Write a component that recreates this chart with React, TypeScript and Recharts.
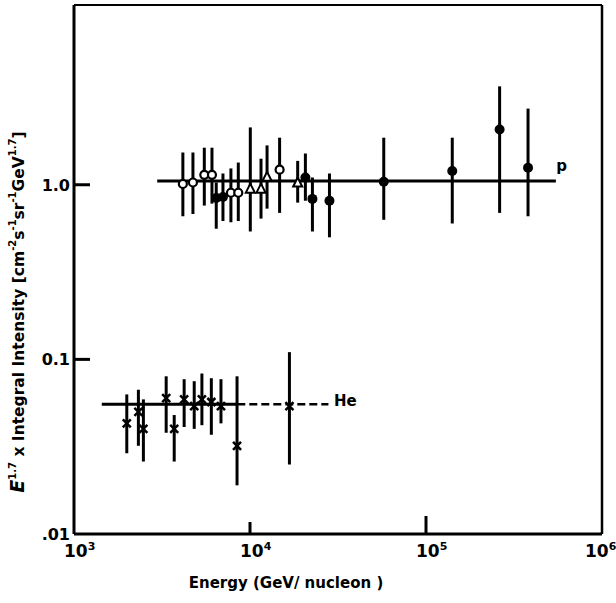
import React from "react";
import {
  ComposedChart,
  Scatter,
  XAxis,
  YAxis,
  ErrorBar,
  LabelList,
} from "recharts";

// proton points (energy GeV/nucleon, E^1.7 x intensity, error band)
const pEnergy = [4155, 4740, 5500, 6080, 6430, 7020, 7790, 8580, 10040, 11550, 12500, 14730, 18660, 20640, 22630, 28280, 57540, 141000, 262000, 380000];
const pValue = [1.01, 1.03, 1.14, 1.14, 0.84, 0.85, 0.9, 0.9, 0.95, 0.95, 1.11, 1.22, 1.03, 1.1, 0.83, 0.81, 1.04, 1.2, 2.07, 1.25];
const pHigh = [1.53, 1.53, 1.63, 1.63, 1.03, 1.16, 1.24, 1.34, 2.13, 1.41, 1.68, 1.86, 1.37, 1.51, 1.1, 1.16, 1.86, 1.86, 3.66, 2.73];
const pLow = [0.66, 0.68, 0.76, 0.78, 0.56, 0.62, 0.61, 0.62, 0.54, 0.64, 0.73, 0.69, 0.79, 0.81, 0.54, 0.5, 0.63, 0.6, 0.69, 0.66];
// o = open circle, f = filled circle, t = triangle
const pMark = ["o", "o", "o", "o", "f", "f", "o", "o", "t", "t", "t", "o", "t", "f", "f", "f", "f", "f", "f", "f"];

// helium points
const heEnergy = [1995, 2322, 2479, 3340, 3710, 4225, 4820, 5330, 6030, 6840, 8440, 16750];
const heValue = [0.043, 0.05, 0.04, 0.06, 0.04, 0.059, 0.054, 0.059, 0.057, 0.054, 0.032, 0.054];
const heHigh = [0.063, 0.067, 0.059, 0.08, 0.048, 0.077, 0.075, 0.083, 0.078, 0.077, 0.08, 0.11];
const heLow = [0.029, 0.032, 0.026, 0.038, 0.026, 0.041, 0.04, 0.042, 0.037, 0.043, 0.019, 0.025];

// fitted flat spectra
const pFitEnergy = [2970, 547000];
const pFitValue = [1.05, 1.05];
const heFitEnergy = [1438, 8470];
const heFitDashEnergy = [8470, 27900];
const heFitValue = [0.0553, 0.0553];

const xTicks = [1000, 10000, 100000, 1000000];
const yTicks = [0.01, 0.1, 1];
const yTickText: Record<string, string> = { "0.01": ".01", "0.1": "0.1", "1": "1.0" };

const FONT = "'DejaVu Sans', sans-serif";

const pData = pEnergy.map((e, i) => ({
  e,
  v: pValue[i],
  err: [pValue[i] - pLow[i], pHigh[i] - pValue[i]],
  m: pMark[i],
}));
const heData = heEnergy.map((e, i) => ({
  e,
  v: heValue[i],
  err: [heValue[i] - heLow[i], heHigh[i] - heValue[i]],
}));
const fit = (es: number[], vs: number[]) => es.map((e, i) => ({ e, v: vs[i] }));

function PMarker(props: any) {
  const { cx, cy, payload } = props;
  if (cx == null || cy == null) return <g />;
  if (payload.m === "f") return <circle cx={cx} cy={cy} r={5} fill="#000" />;
  if (payload.m === "t")
    return (
      <polygon
        points={`${cx},${cy - 5} ${cx - 4.5},${cy + 4} ${cx + 4.5},${cy + 4}`}
        fill="#fff"
        stroke="#000"
        strokeWidth={2}
      />
    );
  return <circle cx={cx} cy={cy} r={4} fill="#fff" stroke="#000" strokeWidth={2.2} />;
}

function HeMarker(props: any) {
  const { cx, cy } = props;
  if (cx == null || cy == null) return <g />;
  return (
    <g stroke="#000" strokeWidth={2.5}>
      <line x1={cx - 4} y1={cy - 4} x2={cx + 4} y2={cy + 4} />
      <line x1={cx - 4} y1={cy + 4} x2={cx + 4} y2={cy - 4} />
    </g>
  );
}

const NoDot = () => <g />;

function XTick(props: any) {
  const { x, y, payload } = props;
  const exp = Math.round(Math.log10(payload.value));
  const len = exp === 4 ? 12 : exp === 5 ? 18 : 0;
  const shift = exp === 6 ? 17 : 10;
  return (
    <g>
      {len > 0 && <line x1={x} x2={x} y1={y} y2={y - len} stroke="#000" strokeWidth={3} />}
      <text x={x - shift} y={y + 23} textAnchor="start" fontSize={17} fontWeight="bold" fontFamily={FONT} fill="#000">
        10
        <tspan dy={-7} fontSize={11}>{exp}</tspan>
      </text>
    </g>
  );
}

function YTick(props: any) {
  const { x, y, payload } = props;
  const v = payload.value;
  return (
    <g>
      {v > 0.05 && <line x1={x} x2={x + 16} y1={y} y2={y} stroke="#000" strokeWidth={3} />}
      <text x={x - 4} y={y + 6} textAnchor="end" fontSize={16} fontWeight="bold" fontFamily={FONT} fill="#000">
        {yTickText[String(v)]}
      </text>
    </g>
  );
}

function YLabel() {
  const cx = 24;
  const cy = 312;
  return (
    <text
      x={cx}
      y={cy}
      transform={`rotate(-90, ${cx}, ${cy})`}
      textAnchor="middle"
      fontSize={15.5}
      fontWeight="bold"
      fontFamily={FONT}
      fill="#000"
    >
      <tspan fontStyle="italic" fontSize={19}>E</tspan>
      <tspan dy={-8} fontSize={10}>1.7</tspan>
      <tspan dy={8}> x Integral Intensity [cm</tspan>
      <tspan dy={-8} fontSize={10}>-2</tspan>
      <tspan dy={8}>s</tspan>
      <tspan dy={-8} fontSize={10}>-1</tspan>
      <tspan dy={8}>sr</tspan>
      <tspan dy={-8} fontSize={10}>-1</tspan>
      <tspan dy={8}>GeV</tspan>
      <tspan dy={-8} fontSize={10}>1.7</tspan>
      <tspan dy={8}>]</tspan>
    </text>
  );
}

function XLabel() {
  return (
    <text x={286} y={588} textAnchor="middle" fontSize={15} fontWeight="bold" fontFamily={FONT} fill="#000">
      Energy (GeV/ nucleon )
    </text>
  );
}

const endLabel = (text: string, dx: number, dy: number, last: number) => (props: any) => {
  const { x, y, index } = props;
  if (index !== last) return null;
  return (
    <text x={x + dx} y={y + dy} fontSize={15} fontWeight="bold" fontFamily={FONT} fill="#000">
      {text}
    </text>
  );
};

export default function App() {
  const axisStroke = { stroke: "#000", strokeWidth: 3 };
  return (
    <div style={{ position: "absolute", left: 0, top: 0, background: "#fff" }}>
      <ComposedChart width={616} height={603} margin={{ top: 4, right: 0, bottom: 0, left: 0 }}>
        <XAxis
          dataKey="e"
          type="number"
          scale="log"
          domain={[1000, 1000000]}
          allowDataOverflow
          ticks={xTicks}
          interval={0}
          tickSize={0}
          tickMargin={0}
          tickLine={false}
          tick={<XTick />}
          axisLine={axisStroke}
          height={69}
          label={<XLabel />}
        />
        <XAxis
          xAxisId="top"
          orientation="top"
          type="number"
          scale="log"
          domain={[1000, 1000000]}
          allowDataOverflow
          height={1}
          tick={false}
          tickLine={false}
          axisLine={{ stroke: "#000", strokeWidth: 2 }}
        />
        <YAxis
          dataKey="v"
          type="number"
          scale="log"
          domain={[0.01, 10.7]}
          allowDataOverflow
          ticks={yTicks}
          interval={0}
          tickSize={0}
          tickMargin={0}
          tickLine={false}
          tick={<YTick />}
          axisLine={axisStroke}
          width={74}
          label={<YLabel />}
        />
        <YAxis
          yAxisId="right"
          orientation="right"
          type="number"
          domain={[0, 1]}
          width={14}
          tick={false}
          tickLine={false}
          axisLine={{ stroke: "#000", strokeWidth: 2.5 }}
        />

        <Scatter
          data={fit(pFitEnergy, pFitValue)}
          line={{ stroke: "#000", strokeWidth: 3 }}
          shape={<NoDot />}
          isAnimationActive={false}
        >
          <LabelList dataKey="v" content={endLabel("p", 5, -6, 1)} />
        </Scatter>
        <Scatter
          data={fit(heFitEnergy, heFitValue)}
          line={{ stroke: "#000", strokeWidth: 3 }}
          shape={<NoDot />}
          isAnimationActive={false}
        />
        <Scatter
          data={fit(heFitDashEnergy, heFitValue)}
          line={{ stroke: "#000", strokeWidth: 2.5, strokeDasharray: "8 4" }}
          shape={<NoDot />}
          isAnimationActive={false}
        >
          <LabelList dataKey="v" content={endLabel("He", 10, 6, 1)} />
        </Scatter>

        <Scatter data={pData} shape={<PMarker />} isAnimationActive={false}>
          <ErrorBar dataKey="err" direction="y" width={0} stroke="#000" strokeWidth={3} />
        </Scatter>
        <Scatter data={heData} shape={<HeMarker />} isAnimationActive={false}>
          <ErrorBar dataKey="err" direction="y" width={0} stroke="#000" strokeWidth={3} />
        </Scatter>
      </ComposedChart>
    </div>
  );
}
